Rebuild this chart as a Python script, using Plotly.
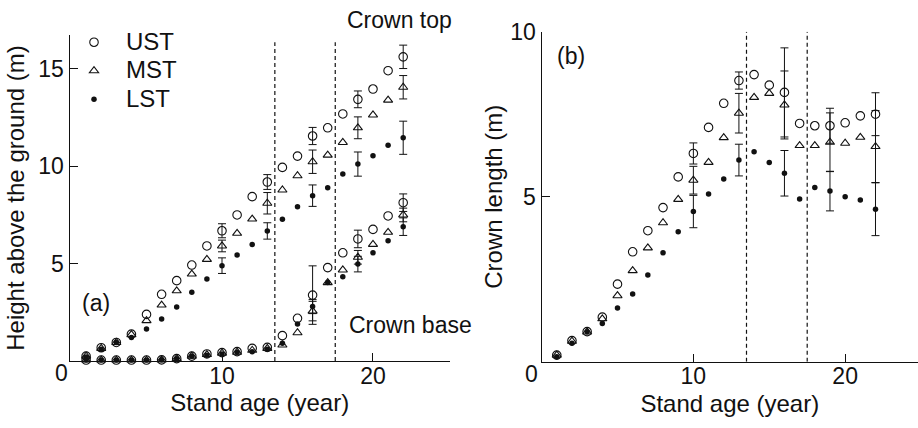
import plotly.graph_objects as go

# ---------------- data ----------------
years = list(range(1, 23))

# (a) crown top height (m)
top_ust = [0.25, 0.68, 0.95, 1.38, 2.39, 3.42, 4.12, 4.92, 5.90, 6.68, 7.49, 8.43,
           9.18, 9.93, 10.51, 11.54, 11.96, 12.67, 13.42, 13.95, 14.89, 15.60]
top_mst = [0.25, 0.65, 0.95, 1.35, 2.07, 2.87, 3.60, 4.46, 5.21, 5.90, 6.55, 7.28,
           8.09, 8.77, 9.50, 10.22, 10.56, 11.21, 11.96, 12.62, 13.38, 14.04]
top_lst = [0.20, 0.60, 0.95, 1.20, 1.64, 2.15, 2.77, 3.52, 4.20, 4.89, 5.44, 5.98,
           6.67, 7.27, 7.91, 8.48, 8.89, 9.59, 10.10, 10.53, 11.06, 11.45]

# (a) crown base height (m)
base_ust = [0.05, 0.05, 0.05, 0.05, 0.05, 0.06, 0.12, 0.25, 0.36, 0.43, 0.48, 0.65,
            0.70, 1.30, 2.19, 3.38, 4.79, 5.55, 6.26, 6.75, 7.44, 8.12]
base_mst = [0.05, 0.05, 0.05, 0.05, 0.05, 0.06, 0.12, 0.25, 0.33, 0.40, 0.45, 0.55,
            0.65, 0.82, 1.45, 2.56, 4.02, 4.67, 5.32, 5.98, 6.60, 7.49]
base_lst = [0.05, 0.05, 0.05, 0.05, 0.05, 0.06, 0.12, 0.25, 0.30, 0.36, 0.45, 0.48,
            0.60, 0.91, 1.90, 2.79, 4.02, 4.32, 4.97, 5.55, 6.17, 6.89]

# (b) crown length (m)
len_ust = [0.20, 0.64, 0.91, 1.35, 2.35, 3.33, 3.97, 4.67, 5.60, 6.31, 7.10, 7.83,
           8.52, 8.70, 8.38, 8.16, 7.22, 7.15, 7.15, 7.24, 7.45, 7.50]
len_mst = [0.20, 0.62, 0.90, 1.30, 2.00, 2.76, 3.45, 4.21, 4.92, 5.50, 6.04, 6.79,
           7.53, 8.01, 8.13, 7.78, 6.55, 6.55, 6.65, 6.62, 6.80, 6.52]
len_lst = [0.15, 0.56, 0.91, 1.16, 1.63, 2.05, 2.63, 3.30, 3.94, 4.55, 5.08, 5.54,
           6.11, 6.36, 6.04, 5.71, 4.93, 5.28, 5.17, 5.00, 4.90, 4.62]

# error bars (years with bars, and half-widths)
err_years = [10, 13, 16, 19, 22]
err_top_ust = [0.36, 0.38, 0.44, 0.43, 0.60]
err_top_mst = [0.30, 0.55, 0.60, 0.56, 0.60]
err_top_lst = [0.40, 0.42, 0.55, 0.62, 0.85]
err_len_ust = [0.32, 0.26, 1.35, 0.53, 0.65]
err_len_mst = [0.42, 0.60, 1.03, 0.89, 1.09]
err_len_lst = [0.49, 0.48, 0.69, 0.60, 0.80]

err_years_base = [16, 19, 22]
err_base_ust = [1.50, 0.45, 0.45]
err_base_mst = [0.50, 0.35, 0.35]
err_base_lst = [0.36, 0.40, 0.45]

phase_breaks = [13.5, 17.5]
series_names = ["UST", "MST", "LST"]

# ---------------- styling ----------------
W, H = 918, 428
FONT = "Liberation Sans, Arial, Helvetica, sans-serif"
BLACK = "#111111"
marker_styles = {
    "UST": dict(symbol="circle-open", size=8.5, color=BLACK, line=dict(width=1.1, color=BLACK)),
    "MST": dict(symbol="triangle-up-open", size=8, color=BLACK, line=dict(width=1.1, color=BLACK)),
    "LST": dict(symbol="circle", size=5.5, color=BLACK, line=dict(width=0)),
}

fig = go.Figure()


def add_series(x, y, name, xa, ya, ex=None, ey=None, legend=False):
    fig.add_trace(go.Scatter(
        x=x, y=y, mode="markers", name=f'<span style="font-size:24px">{name}</span>',
        marker=marker_styles[name], xaxis=xa, yaxis=ya,
        showlegend=legend, legendgroup=name, cliponaxis=False, hoverinfo="x+y"))
    if ex is not None:
        yv = [y[years.index(v)] for v in ex]
        fig.add_trace(go.Scatter(
            x=ex, y=yv, mode="markers", marker=dict(size=1, opacity=0),
            error_y=dict(type="data", array=ey, width=4, thickness=1, color=BLACK),
            xaxis=xa, yaxis=ya, showlegend=False, legendgroup=name,
            cliponaxis=False, hoverinfo="skip"))


tops = [top_ust, top_mst, top_lst]
bases = [base_ust, base_mst, base_lst]
lens = [len_ust, len_mst, len_lst]
etops = [err_top_ust, err_top_mst, err_top_lst]
ebases = [err_base_ust, err_base_mst, err_base_lst]
elens = [err_len_ust, err_len_mst, err_len_lst]

for i, nm in enumerate(series_names):
    add_series(years, tops[i], nm, "x", "y", err_years, etops[i], legend=True)
    add_series(years, bases[i], nm, "x", "y", err_years_base, ebases[i])
    add_series(years, lens[i], nm, "x2", "y2", err_years, elens[i])

# ---------------- axes ----------------
axis_common = dict(showline=True, linecolor=BLACK, linewidth=1.3, ticks="inside",
                   ticklen=8, tickwidth=1.3, tickcolor=BLACK, showgrid=False,
                   zeroline=False, automargin=False,
                   tickfont=dict(family=FONT, size=23, color=BLACK),
                   title_font=dict(family=FONT, size=24, color=BLACK))
xaxis_extra = dict(ticklabelstandoff=-6)

left_x0, left_x1 = 69.5, 450
left_ytop, left_ybot = 35, 361
right_x0 = 541.6
right_ytop, right_ybot = 31.7, 361.7

fig.update_layout(
    width=W, height=H, margin=dict(l=0, r=0, t=0, b=0, autoexpand=False),
    paper_bgcolor="white", plot_bgcolor="white",
    font=dict(family=FONT, size=23, color=BLACK),
    showlegend=True,
    legend=dict(x=62 / W, y=1 - 23 / H, xanchor="left", yanchor="top",
                bgcolor="rgba(0,0,0,0)", font=dict(family=FONT, size=19.6, color=BLACK),
                itemwidth=54, tracegroupgap=0),
    xaxis=dict(axis_common, **xaxis_extra, domain=[left_x0 / W, left_x1 / W], range=[-0.1, 25.1],
               tickvals=[10, 20], title=dict(text="Stand age (year)", standoff=6)),
    yaxis=dict(axis_common, domain=[1 - left_ybot / H, 1 - left_ytop / H], range=[0, 16.72],
               tickvals=[5, 10, 15], title=dict(text="Height above the ground (m)", standoff=6)),
    xaxis2=dict(axis_common, **xaxis_extra, domain=[right_x0 / W, 1.0], range=[0, 24.8], anchor="y2",
                tickvals=[10, 20], title=dict(text="Stand age (year)", standoff=6)),
    yaxis2=dict(axis_common, domain=[1 - right_ybot / H, 1 - right_ytop / H], range=[0, 10],
                anchor="x2", tickvals=[5, 10], title=dict(text="Crown length (m)", standoff=0)),
)

# dashed phase boundaries
for xb in phase_breaks:
    fig.add_shape(type="line", xref="x", yref="y", x0=xb, x1=xb, y0=0, y1=16.35,
                  line=dict(color=BLACK, width=1.2, dash="4px,3px"))
    fig.add_shape(type="line", xref="x2", yref="y2", x0=xb, x1=xb, y0=0, y1=10,
                  line=dict(color=BLACK, width=1.2, dash="4px,3px"))

# text labels
ann_font = dict(family=FONT, size=23, color=BLACK)
fig.add_annotation(text="Crown top", xref="x domain", yref="y domain",
                   x=(345 - left_x0) / (left_x1 - left_x0),
                   y=(left_ybot - 20) / (left_ybot - left_ytop),
                   xanchor="left", yanchor="middle", showarrow=False, font=ann_font)
fig.add_annotation(text="Crown base", xref="x", yref="y", x=18.3, y=1.85,
                   xanchor="left", yanchor="middle", showarrow=False, font=ann_font)
fig.add_annotation(text="(a)", xref="x", yref="y", x=0.6, y=2.97,
                   xanchor="left", yanchor="middle", showarrow=False, font=ann_font)
fig.add_annotation(text="(b)", xref="x2", yref="y2", x=0.85, y=9.25,
                   xanchor="left", yanchor="middle", showarrow=False, font=ann_font)
for xr, yr in (("x", "y"), ("x2", "y2")):
    fig.add_annotation(text="0", xref=xr, yref=yr, x=0, y=0, xshift=-10, yshift=-12,
                       xanchor="center", yanchor="middle", showarrow=False, font=ann_font)

fig.write_html("out.html", config={"displayModeBar": False},
               post_script="document.body.style.margin='0';document.body.style.overflow='hidden';")
